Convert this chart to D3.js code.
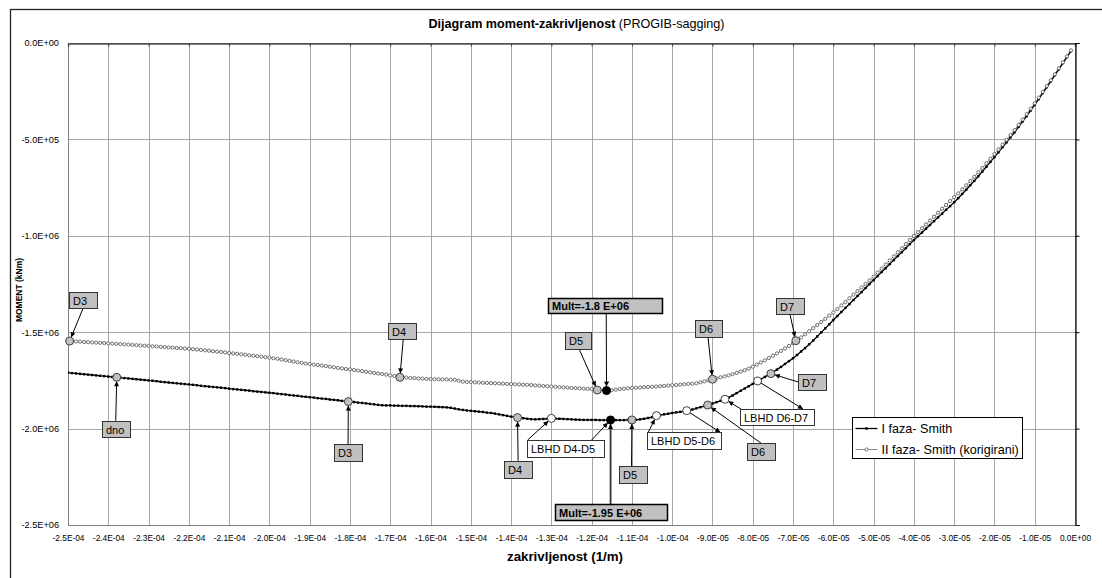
<!DOCTYPE html>
<html><head><meta charset="utf-8">
<script src="https://cdn.jsdelivr.net/npm/d3@7"></script>
<style>
body{margin:0;background:#fff}
svg{display:block}
text{font-family:"Liberation Sans",Arial,sans-serif}
</style>
</head><body>
<svg id="c" width="1102" height="578"></svg>
<script>
// curvature in 1e-6 1/m
const curvature = [
-250,-249,-248,-247,-246,-245,-244,-243,-242,-241,
-240,-239,-238,-237,-236,-235,-234,-233,-232,-231,
-230,-229,-228,-227,-226,-225,-224,-223,-222,-221,
-220,-219,-218,-217,-216,-215,-214,-213,-212,-211,
-210,-209,-208,-207,-206,-205,-204,-203,-202,-201,
-200,-199,-198,-197,-196,-195,-194,-193,-192,-191,
-190,-189,-188,-187,-186,-185,-184,-183,-182,-181,
-180,-179,-178,-177,-176,-175,-174,-173,-172,-171,
-170,-169,-168,-167,-166,-165,-164,-163,-162,-161,
-160,-159,-158,-157,-156,-155,-154,-153,-152,-151,
-150,-149,-148,-147,-146,-145,-144,-143,-142,-141,
-140,-139,-138,-137,-136,-135,-134,-133,-132,-131,
-130,-129,-128,-127,-126,-125,-124,-123,-122,-121,
-120,-119,-118,-117,-116,-115,-114,-113,-112,-111,
-110,-109,-108,-107,-106,-105,-104,-103,-102,-101,
-100,-99,-98,-97,-96,-95,-94,-93,-92,-91,
-90,-89,-88,-87,-86,-85,-84,-83,-82,-81,
-80,-79,-78,-77,-76,-75,-74,-73,-72,-71,
-70,-69,-68,-67,-66,-65,-64,-63,-62,-61,
-60,-59,-58,-57,-56,-55,-54,-53,-52,-51,
-50,-49,-48,-47,-46,-45,-44,-43,-42,-41,
-40,-39,-38,-37,-36,-35,-34,-33,-32,-31,
-30,-29,-28,-27,-26,-25,-24,-23,-22,-21,
-20,-19,-18,-17,-16,-15,-14,-13,-12,-11,
-10,-9,-8,-7,-6,-5,-4,-3,-2,-1];

// moment in 1e3 kNm — "I faza- Smith"
const momentI = [
-1710,-1712,-1714,-1716,-1718,-1720,-1722,-1724,-1726,-1728,
-1730,-1732,-1734,-1736,-1738,-1740,-1742,-1744,-1746,-1748,
-1750,-1752,-1754,-1757,-1759,-1761,-1763,-1765,-1767,-1769,
-1771,-1773,-1775,-1778,-1780,-1782,-1784,-1786,-1788,-1790,
-1793,-1795,-1797,-1799,-1801,-1803,-1806,-1808,-1810,-1812,
-1814,-1816,-1819,-1821,-1823,-1826,-1828,-1830,-1833,-1835,
-1837,-1839,-1842,-1844,-1846,-1849,-1851,-1853,-1856,-1858,
-1860,-1862,-1865,-1867,-1869,-1872,-1874,-1877,-1879,-1880,
-1880,-1881,-1881,-1882,-1882,-1883,-1883,-1884,-1885,-1886,
-1886,-1887,-1888,-1889,-1890,-1892,-1896,-1900,-1903,-1906,
-1908,-1910,-1912,-1914,-1917,-1919,-1922,-1926,-1930,-1934,
-1938,-1941,-1944,-1946,-1949,-1951,-1952,-1951,-1950,-1949,
-1948,-1948,-1949,-1950,-1951,-1952,-1953,-1954,-1955,-1955,
-1955,-1955,-1956,-1956,-1956,-1956,-1956,-1956,-1956,-1955,
-1955,-1954,-1952,-1949,-1945,-1941,-1935,-1930,-1926,-1923,
-1919,-1916,-1913,-1910,-1906,-1901,-1895,-1889,-1883,-1877,
-1870,-1863,-1856,-1849,-1839,-1828,-1816,-1804,-1792,-1780,
-1768,-1756,-1744,-1732,-1720,-1708,-1694,-1680,-1665,-1650,
-1635,-1618,-1600,-1582,-1563,-1543,-1522,-1501,-1480,-1459,
-1437,-1416,-1395,-1374,-1354,-1333,-1312,-1292,-1271,-1250,
-1230,-1209,-1188,-1168,-1147,-1126,-1105,-1085,-1064,-1043,
-1022,-1002,-983,-963,-944,-924,-904,-885,-865,-846,
-826,-805,-783,-761,-738,-715,-691,-667,-642,-617,
-592,-567,-541,-515,-489,-463,-435,-407,-379,-350,
-321,-291,-260,-229,-199,-167,-136,-104,-73,-42];

// moment in 1e3 kNm — "II faza- Smith (korigirani)"
const momentII = [
-1546,-1547,-1548,-1549,-1551,-1552,-1553,-1554,-1555,-1556,
-1558,-1559,-1560,-1562,-1563,-1564,-1566,-1567,-1569,-1570,
-1571,-1573,-1574,-1576,-1577,-1579,-1580,-1582,-1583,-1585,
-1586,-1588,-1590,-1592,-1594,-1596,-1599,-1601,-1603,-1605,
-1608,-1610,-1612,-1615,-1617,-1620,-1622,-1624,-1627,-1629,
-1632,-1635,-1638,-1642,-1645,-1649,-1652,-1656,-1659,-1662,
-1665,-1668,-1670,-1673,-1676,-1679,-1682,-1685,-1688,-1691,
-1693,-1696,-1699,-1702,-1705,-1708,-1711,-1714,-1717,-1720,
-1724,-1727,-1730,-1733,-1735,-1737,-1738,-1740,-1741,-1742,
-1743,-1744,-1744,-1745,-1745,-1746,-1747,-1752,-1756,-1758,
-1759,-1760,-1761,-1762,-1763,-1764,-1765,-1766,-1767,-1768,
-1769,-1770,-1771,-1772,-1773,-1774,-1776,-1777,-1779,-1780,
-1782,-1783,-1785,-1786,-1787,-1789,-1790,-1791,-1793,-1794,
-1795,-1798,-1800,-1802,-1803,-1801,-1798,-1795,-1793,-1791,
-1789,-1788,-1787,-1785,-1784,-1783,-1782,-1780,-1779,-1777,
-1775,-1774,-1772,-1770,-1768,-1767,-1765,-1760,-1755,-1750,
-1744,-1739,-1734,-1729,-1724,-1718,-1711,-1704,-1697,-1689,
-1679,-1668,-1657,-1646,-1634,-1622,-1610,-1597,-1584,-1571,
-1557,-1543,-1527,-1511,-1495,-1479,-1463,-1447,-1431,-1414,
-1398,-1380,-1361,-1343,-1324,-1305,-1287,-1268,-1250,-1231,
-1212,-1191,-1170,-1149,-1128,-1107,-1086,-1065,-1043,-1022,
-1001,-981,-961,-941,-921,-901,-880,-860,-840,-820,
-800,-780,-759,-738,-716,-694,-671,-648,-624,-600,
-576,-552,-527,-502,-477,-451,-424,-397,-369,-341,
-312,-283,-253,-223,-193,-162,-131,-100,-69,-38];

const seriesNames = ["I faza- Smith", "II faza- Smith (korigirani)"];
const xTickValues = [-250,-240,-230,-220,-210,-200,-190,-180,-170,-160,-150,-140,-130,-120,-110,-100,-90,-80,-70,-60,-50,-40,-30,-20,-10,0];
const yTickValues = [-2500,-2000,-1500,-1000,-500,0];
const chartTitleBold = "Dijagram moment-zakrivljenost";
const chartTitleRest = " (PROGIB-sagging)";
const xTitle = "zakrivljenost (1/m)";
const yTitle = "MOMENT (kNm)";

// highlighted points
const pointsII = [
  {id:"D3u", k:-249.6, m:-1546, kind:"grey"},
  {id:"D4u", k:-167.6, m:-1734, kind:"grey"},
  {id:"D5u", k:-118.6, m:-1800, kind:"grey"},
  {id:"Mu",  k:-116.3, m:-1803, kind:"black"},
  {id:"D6u", k:-90.0,  m:-1744, kind:"grey"},
  {id:"D7u", k:-69.3,  m:-1544, kind:"grey"}];
const pointsI = [
  {id:"dno", k:-237.9, m:-1734, kind:"grey"},
  {id:"D3l", k:-180.4, m:-1860, kind:"grey"},
  {id:"D4l", k:-138.4, m:-1943, kind:"grey"},
  {id:"L45", k:-130.0, m:-1947, kind:"white"},
  {id:"Ml",  k:-115.3, m:-1955, kind:"black"},
  {id:"D5l", k:-110.0, m:-1955, kind:"grey"},
  {id:"L56a",k:-103.9, m:-1933, kind:"white"},
  {id:"L56b",k:-96.4,  m:-1907, kind:"white"},
  {id:"D6l", k:-91.2,  m:-1878, kind:"grey"},
  {id:"L67a",k:-86.9,  m:-1848, kind:"white"},
  {id:"L67b",k:-78.8,  m:-1753, kind:"white"},
  {id:"D7l", k:-75.5,  m:-1715, kind:"grey"}];

// callout labels: text, anchor point id, box offset from anchor (px), arrows
const callouts = [
  {text:"D3", at:"D3u", dx:-0.3, dy:-49.4, w:28, h:16, style:"grey", arrows:[{from:[14,16], to:"D3u"}]},
  {text:"D4", at:"D4u", dx:-11.6, dy:-54.6, w:28, h:16, style:"grey", arrows:[{from:[15,16], to:"D4u"}]},
  {text:"D5", at:"D5u", dx:-32.3, dy:-58.3, w:26, h:17, style:"grey", arrows:[{from:[14,17], to:"D5u"}]},
  {text:"Mult=-1.8 E+06", at:"Mu", dx:-58.3, dy:-92.3, w:114, h:15, style:"bold", arrows:[{from:[58,15], to:"Mu"}]},
  {text:"D6", at:"D6u", dx:-17.5, dy:-59.2, w:27, h:17, style:"grey", arrows:[{from:[13,17], to:"D6u"}]},
  {text:"D7", at:"D7u", dx:-19.9, dy:-42.4, w:28, h:16, style:"grey", arrows:[{from:[14,16], to:"D7u"}]},
  {text:"dno", at:"dno", dx:-15, dy:43.4, w:28, h:16, style:"grey", arrows:[{from:[14,0], to:"dno"}]},
  {text:"D3", at:"D3l", dx:-14.3, dy:42.4, w:28, h:17, style:"grey", arrows:[{from:[14,0], to:"D3l"}]},
  {text:"D4", at:"D4l", dx:-13.4, dy:43.1, w:28, h:17, style:"grey", arrows:[{from:[14,0], to:"D4l"}]},
  {text:"LBHD D4-D5", at:"L45", dx:-24.7, dy:21.6, w:77, h:17, style:"white", arrows:[{from:[1,0], to:"L45"},{from:[65,0], to:"Ml"}]},
  {text:"D5", at:"D5l", dx:-13.4, dy:46.1, w:28, h:17, style:"grey", arrows:[{from:[13,0], to:"D5l"}]},
  {text:"Mult=-1.95 E+06", at:"Ml", dx:-56, dy:84.1, w:112, h:16, style:"bold", arrows:[{from:[56,0], to:"Ml", thick:true}]},
  {text:"LBHD D5-D6", at:"L56a", dx:-9.2, dy:16.6, w:74, h:17, style:"white", arrows:[{from:[1,0], to:"L56a"},{from:[73,0], to:"L56b", reverse:true}]},
  {text:"D6", at:"D6l", dx:39.6, dy:38.2, w:28, h:17, style:"grey", arrows:[{from:[14,0], to:"D6l"}]},
  {text:"LBHD D6-D7", at:"L67a", dx:15, dy:9.7, w:74, h:16, style:"white", arrows:[{from:[1,0], to:"L67a"},{from:[63,0], to:"L67b", reverse:true}]},
  {text:"D7", at:"D7l", dx:27.2, dy:0.3, w:28, h:16, style:"grey", arrows:[{from:[0,8], to:"D7l"}]}];

const W = 1102, H = 578;
const plot = {left:68, right:1075, top:43, bottom:525};
const svg = d3.select("#c");

const x = d3.scaleLinear().domain([-250, 0]).range([plot.left, plot.right]);
const y = d3.scaleLinear().domain([-2500, 0]).range([plot.bottom, plot.top]);

function sci(v){
  if (v === 0) return "0.0E+00";
  const s = v.toExponential(1);
  const [mant, ex] = s.split("e");
  const e = parseInt(ex, 10);
  return mant + "E" + (e < 0 ? "-" : "+") + String(Math.abs(e)).padStart(2, "0");
}

// chart area border (extends past the window like the reference)
svg.append("rect").attr("x",10.5).attr("y",9.5).attr("width",W+20).attr("height",H+20)
  .attr("fill","#fff").attr("stroke","#222").attr("stroke-width",1.3);

const defs = svg.append("defs");
defs.append("marker").attr("id","ah").attr("viewBox","0 0 10 10").attr("refX",10).attr("refY",5)
  .attr("markerWidth",6).attr("markerHeight",5).attr("markerUnits","userSpaceOnUse").attr("orient","auto")
  .append("path").attr("d","M0,0 L10,5 L0,10 z").attr("fill","#000");
defs.append("clipPath").attr("id","clip").append("rect")
  .attr("x",plot.left).attr("y",plot.top-6).attr("width",plot.right-plot.left+6).attr("height",plot.bottom-plot.top+6);

// gridlines
const grid = svg.append("g");
grid.selectAll("line.v").data(xTickValues).join("line")
  .attr("x1",d=>Math.round(x(d))+0.5).attr("x2",d=>Math.round(x(d))+0.5)
  .attr("y1",plot.top).attr("y2",plot.bottom)
  .attr("stroke","#a6a6a6").attr("stroke-width",1);
grid.selectAll("line.h").data(yTickValues).join("line")
  .attr("y1",d=>Math.round(y(d))+0.5).attr("y2",d=>Math.round(y(d))+0.5)
  .attr("x1",plot.left).attr("x2",plot.right)
  .attr("stroke","#a6a6a6").attr("stroke-width",1);
svg.append("line").attr("x1",plot.left+0.5).attr("x2",plot.left+0.5).attr("y1",plot.top).attr("y2",plot.bottom+0.5).attr("stroke","#808080");
svg.append("line").attr("x1",plot.left).attr("x2",plot.right).attr("y1",plot.bottom+0.5).attr("y2",plot.bottom+0.5).attr("stroke","#808080");

// axis lines (x axis crosses at M=0 -> top, y axis crosses at k=0 -> right)
const topAxis = d3.axisTop(x).tickValues(xTickValues).tickSize(-3).tickFormat("");
svg.append("g").attr("transform",`translate(0,${plot.top+0.5})`).call(topAxis)
  .call(g=>g.select(".domain").attr("stroke","#000").attr("stroke-width",1.2))
  .call(g=>g.selectAll(".tick line").attr("stroke","#444"));
const rightAxis = d3.axisRight(y).tickValues(yTickValues).tickSize(4).tickFormat("");
svg.append("g").attr("transform",`translate(${plot.right+0.5},0)`).call(rightAxis)
  .call(g=>g.select(".domain").attr("stroke","#000").attr("stroke-width",1.2))
  .call(g=>g.selectAll(".tick line").attr("stroke","#000"));

// tick labels (low position)
const bottomLabels = d3.axisBottom(x).tickValues(xTickValues).tickSize(0).tickFormat(d=>sci(d*1e-6));
svg.append("g").attr("transform",`translate(0,${plot.bottom+7})`).call(bottomLabels)
  .call(g=>g.select(".domain").remove())
  .call(g=>g.selectAll("text").attr("font-size",8.3).attr("fill","#000")
    .attr("font-family",'"Liberation Sans",Arial,sans-serif'));
const leftLabels = d3.axisLeft(y).tickValues(yTickValues).tickSize(0).tickFormat(d=>sci(d*1e3));
svg.append("g").attr("transform",`translate(${plot.left-6},0)`).call(leftLabels)
  .call(g=>g.select(".domain").remove())
  .call(g=>g.selectAll("text").attr("font-size",9.2).attr("fill","#000")
    .attr("font-family",'"Liberation Sans",Arial,sans-serif'));

// titles
const t = svg.append("text").attr("x",576.5).attr("y",27.5).attr("text-anchor","middle").attr("font-size",12.6);
t.append("tspan").attr("font-weight","bold").text(chartTitleBold);
t.append("tspan").text(chartTitleRest);
svg.append("text").attr("x",565).attr("y",561).attr("text-anchor","middle")
  .attr("font-size",13.3).attr("font-weight","bold").text(xTitle);
svg.append("text").attr("transform","translate(22,290) rotate(-90)").attr("text-anchor","middle")
  .attr("font-size",8.5).attr("font-weight","bold").text(yTitle);

// series
const dataI = curvature.map((k,i)=>({k, m:momentI[i]}));
const dataII = curvature.map((k,i)=>({k, m:momentII[i]}));
const line = d3.line().x(d=>x(d.k)).y(d=>y(d.m));
const sg = svg.append("g").attr("clip-path","url(#clip)");
sg.append("path").datum(dataII).attr("d",line).attr("fill","none").attr("stroke","#8c8c8c").attr("stroke-width",1);
sg.append("path").datum(dataI).attr("d",line).attr("fill","none").attr("stroke","#000").attr("stroke-width",1.3);
sg.selectAll("rect.mi").data(dataI).join("rect")
  .attr("x",d=>x(d.k)-1.2).attr("y",d=>y(d.m)-1.2).attr("width",2.4).attr("height",2.4).attr("fill","#000");
sg.selectAll("circle.mii").data(dataII).join("circle")
  .attr("cx",d=>x(d.k)).attr("cy",d=>y(d.m)).attr("r",1.6)
  .attr("fill","#fff").attr("stroke","#505050").attr("stroke-width",0.8);

// callouts
const pts = {};
pointsI.concat(pointsII).forEach(p=>{ pts[p.id] = p; });
const R = 4;
const cg = svg.append("g");
callouts.forEach(c=>{
  const a = pts[c.at];
  const bx = x(a.k) + c.dx, by = y(a.m) + c.dy;
  c.arrows.forEach(ar=>{
    const p = pts[ar.to];
    const px = x(p.k), py = y(p.m);
    const fx = bx + ar.from[0], fy = by + ar.from[1];
    let x1, y1, x2, y2;
    if (ar.reverse){
      const dx = fx - px, dy = fy - py, L = Math.hypot(dx,dy);
      x1 = px + dx/L*R; y1 = py + dy/L*R; x2 = fx; y2 = fy;
    } else {
      const dx = px - fx, dy = py - fy, L = Math.hypot(dx,dy);
      x1 = fx; y1 = fy; x2 = px - dx/L*R; y2 = py - dy/L*R;
    }
    cg.append("line").attr("x1",x1).attr("y1",y1).attr("x2",x2).attr("y2",y2)
      .attr("stroke", ar.thick ? "#333" : "#000").attr("stroke-width", ar.thick ? 1.8 : 1)
      .attr("marker-end","url(#ah)");
  });
  cg.append("rect").attr("x",Math.round(bx)+0.5).attr("y",Math.round(by)+0.5).attr("width",c.w).attr("height",c.h)
    .attr("fill", c.style === "white" ? "#fff" : "#c0c0c0")
    .attr("stroke", c.style === "bold" ? "#000" : "#333").attr("stroke-width", c.style === "bold" ? 1.5 : 1);
  cg.append("text").attr("x",Math.round(bx)+4).attr("y",Math.round(by)+c.h/2+4.5)
    .attr("font-size",11).attr("font-weight", c.style === "bold" ? "bold" : "normal").text(c.text);
});

// highlight markers
const fills = {grey:"#c0c0c0", white:"#fff", black:"#000"};
svg.append("g").selectAll("circle").data(pointsI.concat(pointsII)).join("circle")
  .attr("cx",d=>x(d.k)).attr("cy",d=>y(d.m)).attr("r",R)
  .attr("fill",d=>fills[d.kind]).attr("stroke",d=>d.kind==="black"?"#000":"#404040").attr("stroke-width",1);

// legend
const lg = svg.append("g").attr("transform","translate(852.5,417.5)");
lg.append("rect").attr("width",170).attr("height",41).attr("fill","#fff").attr("stroke","#000");
const rows = [{y:11, name:seriesNames[0]}, {y:32, name:seriesNames[1]}];
lg.append("line").attr("x1",3).attr("x2",25).attr("y1",rows[0].y).attr("y2",rows[0].y).attr("stroke","#000").attr("stroke-width",1.3);
lg.append("rect").attr("x",14-1.2).attr("y",rows[0].y-1.2).attr("width",2.4).attr("height",2.4).attr("fill","#000");
lg.append("line").attr("x1",3).attr("x2",25).attr("y1",rows[1].y).attr("y2",rows[1].y).attr("stroke","#8c8c8c");
lg.append("circle").attr("cx",14).attr("cy",rows[1].y).attr("r",1.6).attr("fill","#fff").attr("stroke","#505050").attr("stroke-width",0.8);
rows.forEach(r=>{
  lg.append("text").attr("x",29).attr("y",r.y+4.5).attr("font-size",12.6).text(r.name);
});
</script>
</body></html>
